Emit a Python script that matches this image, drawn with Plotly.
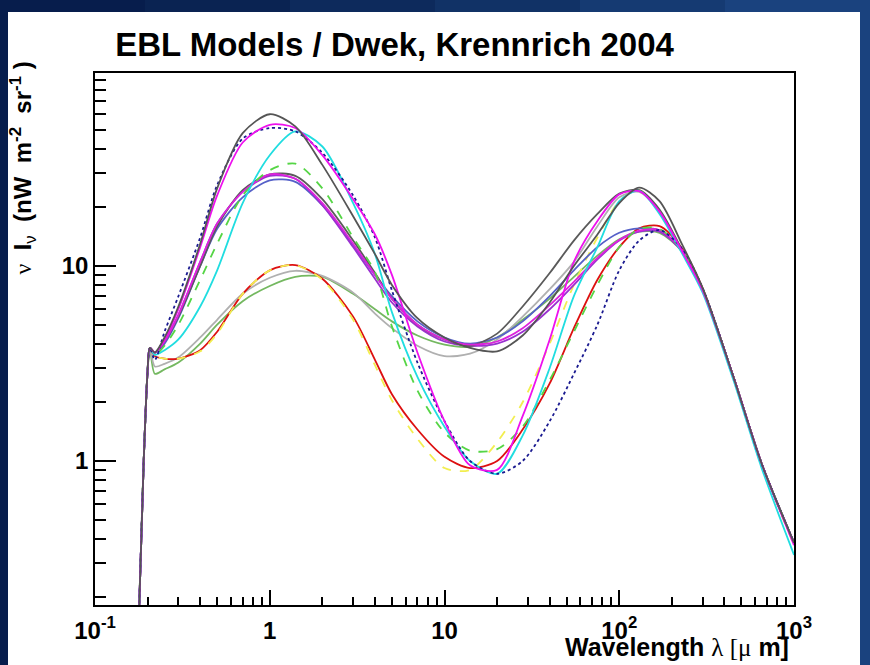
import plotly.graph_objects as go

wavelength = [0.178, 0.19, 0.2, 0.206, 0.22, 0.25, 0.3, 0.4, 0.5, 0.7, 1.0, 1.4, 2, 3, 4, 5, 7, 10,
              14, 20, 28, 40, 55, 75, 100, 130, 170, 230, 300, 450, 650, 1000]

uv_start = [0.15, 1.0, 2.9, 3.8]

charcoal_hi = uv_start + [3.6, 4.3, 6.2, 13, 25, 48, 60, 52, 33, 18, 11.5, 8.0, 5.4, 4.3, 3.8, 3.65,
                          4.4, 6.5, 10, 14.5, 21, 25.2, 21.5, 12.8, 7.7, 2.7, 0.98, 0.38]
magenta_hi = uv_start + [3.6, 4.2, 6.0, 12.5, 23, 43, 53, 51, 37, 22, 14.5, 9, 3.6, 1.6, 0.95, 0.9,
                         1.7, 4.2, 10.5, 17, 23.3, 24.2, 19, 11.8, 7.5, 2.7, 0.98, 0.37]
navy_dot = uv_start + [3.3, 4.6, 7.0, 14, 26, 45, 51, 49, 38, 23, 14, 7.5, 3.2, 1.6, 1.0, 0.86,
                       1.0, 1.6, 2.8, 5.0, 9.5, 13.5, 15.3, 12.2, 7.7, 2.7, 0.98, 0.38]
cyan_hi = uv_start + [3.5, 3.7, 4.2, 6.2, 9.5, 21, 37, 49, 41, 21, 11.5, 5.8, 2.7, 1.5, 1.0, 0.86,
                      1.35, 3.0, 7.0, 12.5, 21.5, 24.3, 18.5, 11.5, 7.3, 2.6, 0.93, 0.33]
green_dash = uv_start + [3.5, 3.9, 5.0, 8.5, 13, 23, 31, 33.5, 25, 14, 9.3, 4.9, 2.3, 1.4, 1.13, 1.15,
                         1.5, 2.6, 4.6, 8, 12.5, 15.5, 15.5, 12, 7.6, 2.7, 0.98, 0.38]
magenta_mid = uv_start + [3.6, 4.1, 5.6, 10.5, 16.5, 24, 29.5, 28, 21, 13, 9.0, 6.8, 5.0, 4.2, 3.95, 4.1,
                          4.8, 6.3, 8.3, 11, 13.6, 15.2, 15.3, 12, 7.6, 2.7, 0.98, 0.38]
gray_mid = uv_start + [3.6, 4.1, 5.5, 10, 16, 24.5, 29.5, 29, 22, 13.5, 9.2, 6.8, 5.0, 4.2, 3.9, 4.5,
                       6.2, 9.2, 13.5, 18.5, 23.5, 24.5, 19.5, 12, 7.6, 2.7, 0.98, 0.38]
purple_mid = uv_start + [3.6, 4.1, 5.6, 10.5, 16.5, 24, 29, 28, 20.5, 12.5, 8.6, 6.5, 4.9, 4.1, 3.9, 4.0,
                         4.6, 6.0, 8.0, 10.8, 13.5, 15.0, 15.0, 11.8, 7.6, 2.7, 0.98, 0.38]
slate_mid = uv_start + [3.6, 4.0, 5.4, 10, 15.5, 22.5, 27.5, 27, 20.5, 12.8, 9.0, 7.0, 5.2, 4.3, 4.0, 4.3,
                        5.2, 7.0, 9.5, 12.5, 14.8, 15.6, 15.2, 12, 7.6, 2.7, 0.98, 0.38]
red_lo = uv_start + [3.45, 3.35, 3.35, 3.7, 4.6, 7.2, 9.5, 10.1, 8.6, 5.5, 3.3, 2.2, 1.45, 1.05, 0.92, 1.0,
                     1.45, 2.5, 4.8, 8.5, 12.5, 15.6, 16.0, 12.2, 7.7, 2.7, 0.98, 0.38]
yellow_lo = uv_start + [3.45, 3.35, 3.35, 3.65, 4.5, 7.2, 9.5, 10.1, 8.5, 5.3, 3.1, 2.05, 1.3, 0.92, 0.9, 1.25,
                        2.0, 4.0, 8, 14, 21.5, 24.5, 19, 11.8, 7.5, 2.7, 0.97, 0.37]
gray_lo = uv_start + [3.05, 3.15, 3.4, 4.3, 5.3, 7.2, 8.7, 9.45, 8.9, 7.3, 5.7, 4.8, 3.9, 3.45, 3.55, 4.2,
                      5.5, 7.6, 10.5, 16, 22.5, 24, 19, 11.8, 7.5, 2.7, 0.98, 0.38]
olive_lo = uv_start + [2.8, 2.95, 3.2, 4.0, 5.0, 6.6, 7.9, 8.8, 8.8, 7.2, 6.0, 5.2, 4.4, 3.95, 3.85, 4.3,
                       5.3, 6.8, 8.8, 11.3, 13.7, 15.0, 14.8, 11.8, 7.6, 2.7, 0.98, 0.38]

series = [
    (olive_lo, "#74b860", "solid"),
    (gray_lo, "#b0b0b0", "solid"),
    (red_lo, "#dd1010", "solid"),
    (yellow_lo, "#f2ee50", "dash"),
    (slate_mid, "#5560c8", "solid"),
    (purple_mid, "#9a30d0", "solid"),
    (gray_mid, "#5a5a5a", "solid"),
    (magenta_mid, "#dd22dd", "solid"),
    (green_dash, "#55d545", "dash"),
    (cyan_hi, "#20dde0", "solid"),
    (navy_dot, "#1a1a90", "dot"),
    (magenta_hi, "#ee10ee", "solid"),
    (charcoal_hi, "#555555", "solid"),
]

x_major = [0.1, 1, 10, 100, 1000]
x_major_text = ["10<sup>-1</sup>", "1", "10", "10<sup>2</sup>", "10<sup>3</sup>"]
x_minor = [m * d for d in (0.1, 1, 10, 100) for m in range(2, 10)]
y_major = [1, 10]
y_major_text = ["1", "10"]
y_minor = [m * d for d in (0.1, 1, 10) for m in range(2, 10)]

fig = go.Figure()
for vals, color, dash in series:
    fig.add_trace(go.Scatter(x=wavelength, y=vals, mode="lines",
                             line=dict(color=color, width=1.8, dash=dash, shape="spline", smoothing=0.8),
                             showlegend=False, hoverinfo="skip"))

FONT = "Liberation Sans, Arial, sans-serif"

# slide background: dark navy with a brighter band toward the upper right
bg_shapes = []
band_cols = ["#071d4c", "#0a2352", "#0d2a5c", "#113266", "#153a72", "#1a427e"]
n = len(band_cols)
for i, c in enumerate(band_cols):
    bg_shapes.append(dict(type="rect", xref="paper", yref="paper",
                          x0=-95 / 699 + i * (870 / 699) / n, x1=-95 / 699 + (i + 1) * (870 / 699) / n + 0.002,
                          y0=(605 - 665) / 532, y1=(605 + 2) / 532 + 1.2,
                          fillcolor=c, line=dict(width=0), layer="below"))
bg_shapes.append(dict(type="rect", xref="paper", yref="paper", x0=(8 - 95) / 699, x1=(860 - 95) / 699,
                      y0=(605 - 670) / 532, y1=(605 - 12) / 532, fillcolor="white", line=dict(width=0),
                      layer="below"))

fig.update_layout(
    width=870, height=665,
    margin=dict(l=95, r=76, t=73, b=60),
    paper_bgcolor="#0b2554",
    plot_bgcolor="white",
    font=dict(family=FONT, color="black"),
    title=dict(text="<b>EBL Models / Dwek, Krennrich 2004</b>", x=394.5 / 870, xanchor="center",
               y=1 - 44 / 665, yanchor="middle", font=dict(size=33, family=FONT, color="black")),
    shapes=bg_shapes,
)
fig.update_xaxes(type="log", range=[-1, 3], showgrid=False, zeroline=False,
                 showline=True, linecolor="black", linewidth=1.5, mirror=True,
                 ticks="inside", ticklen=15, tickwidth=1.5, tickcolor="black",
                 tickvals=x_major, ticktext=x_major_text, ticklabelstandoff=3,
                 tickfont=dict(size=24, weight="bold", family=FONT),
                 minor=dict(tickvals=x_minor, ticks="inside", ticklen=8, tickwidth=1.5, tickcolor="black"))
fig.update_yaxes(type="log", range=[-0.7385, 1.9897], showgrid=False, zeroline=False,
                 showline=True, linecolor="black", linewidth=1.5, mirror=True,
                 ticks="inside", ticklen=21, tickwidth=1.5, tickcolor="black",
                 tickvals=y_major, ticktext=y_major_text,
                 tickfont=dict(size=24, weight="bold", family=FONT),
                 minor=dict(tickvals=y_minor, ticks="inside", ticklen=11, tickwidth=1.5, tickcolor="black"))

fig.add_annotation(xref="paper", yref="paper", x=(791 - 95) / 699, y=(605 - 647) / 532,
                   xanchor="right", yanchor="middle", showarrow=False,
                   text="<b>Wavelength </b><span style='font-family:Liberation Serif'>λ [μ</span><b> m]</b>",
                   font=dict(size=25, family=FONT, color="black"))
fig.add_annotation(xref="paper", yref="paper", x=(22 - 95) / 699, y=(605 - 60) / 532,
                   xanchor="center", yanchor="top", showarrow=False, textangle=-90,
                   text="<span style='font-family:Liberation Serif'>ν</span><b>  I</b><sub>ν</sub>"
                        "<b>  (nW  m<sup>-2</sup>  sr<sup>-1</sup> )</b>",
                   font=dict(size=24, family=FONT, color="black"))

fig.write_html("out.html")
